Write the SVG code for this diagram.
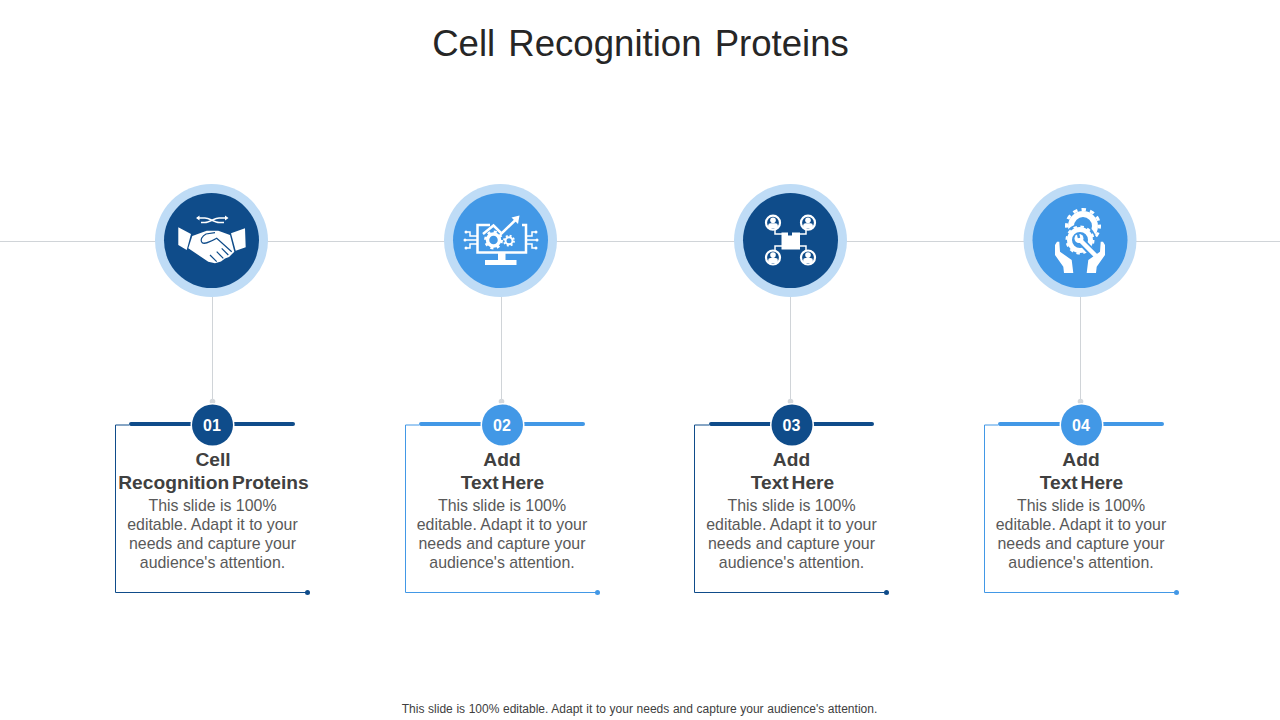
<svg xmlns="http://www.w3.org/2000/svg" width="1280" height="720" viewBox="0 0 1280 720">
<style>
text{font-family:"Liberation Sans",Arial,sans-serif;text-anchor:middle}
.title{font-size:36.600px;fill:#262626;word-spacing:3px}
.foot{font-size:12px;fill:#404040;word-spacing:.3px}
.head{font-size:19.200px;font-weight:700;fill:#404040;word-spacing:-2.500px}
.body{font-size:15.900px;fill:#595959}
.num{font-size:16px;font-weight:700;fill:#fff}
.rule{stroke:#d0d4d8;stroke-width:1;fill:none}
.halo{fill:#bfdcf6}
.dark{fill:#0f4c8a}.blue{fill:#4298e6}
.sdark{stroke:#0f4c8a}.sblue{stroke:#4298e6}
.bar{stroke-width:4;stroke-linecap:round;fill:none}
.frame{stroke-width:1;fill:none}
.w{fill:#fff}
.wl{fill:none;stroke:#fff;stroke-width:1.500}
</style>
<defs>
<g id="person">
<circle r="7" fill="none" stroke="#fff" stroke-width="2.200"/>
<circle cy="-2.400" r="2.800" fill="#fff"/>
<path d="M-4.800 5.500V2.500Q-4.800 .6-2.500 .6H2.500Q4.800 .6 4.800 2.500V5.500Z" fill="#fff"/>
</g>
</defs>
<text class="title" x="640.500" y="56">Cell Recognition Proteins</text>
<g id="connectors">
<path class="rule" d="M0 241.500H1280"/>
<path class="rule" d="M212.500 297V402M501.500 297V402M790.500 297V402M1080.500 297V402"/>
<g fill="#d4d8dc"><circle cx="212.500" cy="401.500" r="2.800"/><circle cx="501.500" cy="401.500" r="2.800"/><circle cx="790.500" cy="401.500" r="2.800"/><circle cx="1080.500" cy="401.500" r="2.800"/></g>
</g>
<g id="node-1">
<circle class="halo" cx="211.500" cy="240.500" r="56.500"/><circle class="dark" cx="211.500" cy="240.500" r="47.500"/>
<path class="wl" d="M197 218H205C209 218 215 222.500 219 222.500H224M201 222.500H205C209 222.500 215 218 219 218H227" stroke-width="1.300"/>
<path class="w" d="M196 218l3.500-2.500v5ZM228.500 218l-3.500-2.500v5Z"/>
<path class="w" d="M178.300 227.300L191 234 186.700 250 178.300 245ZM245 228.300L231 233.300 235.700 250.700 245.700 247.300Z"/>
<path class="w" d="M192.300 236L206.700 230.700H218.300L230 235 234.300 251.700 229 257 225 258.500 221 261.500 215 263.300 208.300 261.700 188.300 248.300Z"/>
<path d="M215 232.700L206 234C202 236 200 240 202 242.500C204 244.500 208 243 216.700 238.300L231.700 251.700M223.300 258.300L216.700 251.700M216.700 261.700L210 255M228.300 255L221.700 248.300" fill="none" stroke="#0f4c8a" stroke-width="1.200"/>
</g>
<g id="node-2">
<circle class="halo" cx="500.500" cy="240.500" r="56.500"/><circle class="blue" cx="500.500" cy="240.500" r="47.500"/>
<path d="M490 225H477.500V252.500H526V225H522" fill="none" stroke="#fff" stroke-width="2.500"/>
<path d="M498 253H505.500V260H498ZM485 260H516.500V265H485Z" class="w"/>
<path d="M483 234L493.500 225.500 501.500 233.500 516.500 219" fill="none" stroke="#fff" stroke-width="2.500"/>
<path class="w" d="M519.500 215.500L518 224 511.500 217.500Z"/>
<circle cx="493.500" cy="240" r="6" fill="none" stroke="#fff" stroke-width="3.500"/><circle cx="493.500" cy="240" r="8.200" fill="none" stroke="#fff" stroke-width="2.500" stroke-dasharray="3 3.440"/>
<circle cx="509" cy="240.700" r="3.500" fill="none" stroke="#fff" stroke-width="2"/><circle cx="509" cy="240.700" r="5" fill="none" stroke="#fff" stroke-width="1.800" stroke-dasharray="2 1.930"/>
<path class="wl" d="M477 236H470V232H467M477 240H466M477 244H470V248H467M526 236H532V232H535M526 240H536M526 244H532V248H535" stroke-width="1.300"/>
<g class="w"><circle cx="466" cy="232" r="1.500"/><circle cx="465" cy="240" r="1.500"/><circle cx="466" cy="248" r="1.500"/><circle cx="536" cy="232" r="1.500"/><circle cx="537" cy="240" r="1.500"/><circle cx="536" cy="248" r="1.500"/></g>
</g>
<g id="node-3">
<circle class="halo" cx="790.500" cy="240.500" r="56.500"/><circle class="dark" cx="790.500" cy="240.500" r="47.500"/>
<path class="wl" d="M775 230V234H782M806 230V234H800M775 250V246H782M806 250V246H800"/>
<path class="w" d="M781.500 232.500H788V235.500H792V232.500H800V249.500H781.500Z"/>
<use href="#person" x="773" y="222.700"/><use href="#person" x="808" y="222.700"/><use href="#person" x="773" y="257.500"/><use href="#person" x="808" y="257.500"/>
</g>
<g id="node-4">
<circle class="halo" cx="1080" cy="240.500" r="56.500"/><circle class="blue" cx="1080" cy="240.500" r="47.500"/>
<circle cx="1083" cy="226" r="12" fill="none" stroke="#fff" stroke-width="6"/>
<circle cx="1083" cy="226" r="16.500" fill="none" stroke="#fff" stroke-width="3" stroke-dasharray="4.500 4.140" stroke-dashoffset="2"/>
<circle cx="1080" cy="240" r="16" class="blue"/>
<circle cx="1080" cy="240" r="10.500" fill="none" stroke="#fff" stroke-width="5"/>
<circle cx="1080" cy="240" r="13.500" fill="none" stroke="#fff" stroke-width="2" stroke-dasharray="3.500 3.570"/>
<path d="M1083 243L1097 258" stroke="#4298e6" stroke-width="8"/>
<path d="M1080 240L1095.500 255.500" stroke="#fff" stroke-width="4.500" stroke-linecap="round"/>
<circle cx="1079" cy="238.500" r="4.500" fill="#fff"/>
<path d="M1078 233.500L1079 238" stroke="#4298e6" stroke-width="2.500"/>
<path class="w" d="M1055 245L1057 241.700H1059.300L1060 251.700 1071.700 260 1073.300 273H1064L1063.300 266.700 1055 255Z"/>
<path class="w" d="M1105 245L1103 241.700H1100.700L1100 251.700 1088.300 260 1086.700 273H1096L1096.700 266.700 1105 255Z"/>
</g>
<g id="card-1">
<path class="frame sdark" d="M129 425H115.500V592.500H307"/>
<circle class="dark" cx="307.500" cy="592.500" r="2.500"/>
<path class="bar sdark" d="M131 424H293"/>
<circle cx="212.500" cy="425" r="22" fill="#fff"/><circle class="dark" cx="212.500" cy="425" r="20.500"/>
<text class="num" x="212" y="431">01</text>
<text class="head" x="213" y="466">Cell</text>
<text class="head" x="213.500" y="489">Recognition Proteins</text>
<text class="body"><tspan x="212.500" y="511">This slide is 100%</tspan><tspan x="212.500" y="530">editable. Adapt it to your</tspan><tspan x="212.500" y="549">needs and capture your</tspan><tspan x="212.500" y="568">audience's attention.</tspan></text>
</g>
<g id="card-2">
<path class="frame sblue" d="M419 425H405.500V592.500H597"/>
<circle class="blue" cx="597.500" cy="592.500" r="2.500"/>
<path class="bar sblue" d="M421 424H583"/>
<circle cx="502.500" cy="425" r="22" fill="#fff"/><circle class="blue" cx="502.500" cy="425" r="20.500"/>
<text class="num" x="502" y="431">02</text>
<text class="head" x="502" y="466">Add</text>
<text class="head" x="502.500" y="489">Text Here</text>
<text class="body"><tspan x="502" y="511">This slide is 100%</tspan><tspan x="502" y="530">editable. Adapt it to your</tspan><tspan x="502" y="549">needs and capture your</tspan><tspan x="502" y="568">audience's attention.</tspan></text>
</g>
<g id="card-3">
<path class="frame sdark" d="M709 425H694.500V592.500H886"/>
<circle class="dark" cx="886.500" cy="592.500" r="2.500"/>
<path class="bar sdark" d="M711 424H872"/>
<circle cx="792" cy="425" r="22" fill="#fff"/><circle class="dark" cx="792" cy="425" r="20.500"/>
<text class="num" x="791.500" y="431">03</text>
<text class="head" x="791.500" y="466">Add</text>
<text class="head" x="792.500" y="489">Text Here</text>
<text class="body"><tspan x="791.500" y="511">This slide is 100%</tspan><tspan x="791.500" y="530">editable. Adapt it to your</tspan><tspan x="791.500" y="549">needs and capture your</tspan><tspan x="791.500" y="568">audience's attention.</tspan></text>
</g>
<g id="card-4">
<path class="frame sblue" d="M998 425H984.500V592.500H1176"/>
<circle class="blue" cx="1176.500" cy="592.500" r="2.500"/>
<path class="bar sblue" d="M1000 424H1162"/>
<circle cx="1081.500" cy="425" r="22" fill="#fff"/><circle class="blue" cx="1081.500" cy="425" r="20.500"/>
<text class="num" x="1081" y="431">04</text>
<text class="head" x="1081" y="466">Add</text>
<text class="head" x="1081.500" y="489">Text Here</text>
<text class="body"><tspan x="1081" y="511">This slide is 100%</tspan><tspan x="1081" y="530">editable. Adapt it to your</tspan><tspan x="1081" y="549">needs and capture your</tspan><tspan x="1081" y="568">audience's attention.</tspan></text>
</g>
<text class="foot" x="639.500" y="713">This slide is 100% editable. Adapt it to your needs and capture your audience's attention.</text>
</svg>
